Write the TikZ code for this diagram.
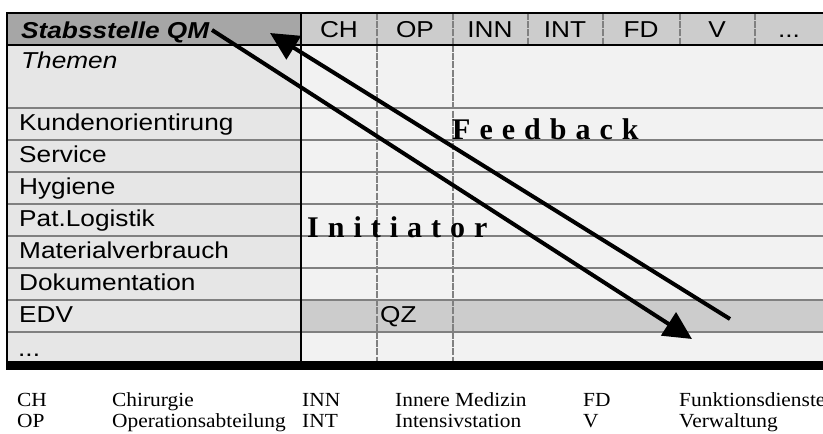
\documentclass[tikz,border=0pt]{standalone}
\usepackage{fontspec}
\setmainfont{Liberation Serif}
\newfontfamily\arialfont{Liberation Sans}
\usetikzlibrary{arrows.meta}

\definecolor{hdrdark}{HTML}{A6A6A6}
\definecolor{hdrlight}{HTML}{CCCCCC}
\definecolor{sidecell}{HTML}{E6E6E6}
\definecolor{bodycell}{HTML}{F2F2F2}
\definecolor{rulegray}{HTML}{808080}

% horizontally widened text
\newcommand{\wide}[2][1.14]{\scalebox{#1}[1]{#2}}
% gap between letters of a spaced bold label
\newcommand{\lgap}{\kern9pt}

\tikzset{
  cell/.style={anchor=base west, inner sep=0pt, font=\arialfont\fontsize{23}{26}\selectfont},
  colhead/.style={anchor=base, inner sep=0pt, font=\arialfont\fontsize{23}{26}\selectfont},
  legendtext/.style={anchor=base west, inner sep=0pt, font=\fontsize{20}{22}\selectfont},
  flowlabel/.style={anchor=base west, inner sep=0pt, font=\bfseries\fontsize{30}{32}\selectfont},
  rowrule/.style={draw=rulegray, line width=2pt},
  colrule/.style={draw=rulegray, line width=2.6pt, dash pattern=on 7pt off 1.2pt},
  frame/.style={draw=black, line width=2.5pt},
  flow/.style={draw=black, line width=4pt, -{Triangle[length=28pt,width=27pt]}},
}

\begin{document}
\begin{tikzpicture}[x=1pt, y=-1pt]
\useasboundingbox (0,0) rectangle (823,434);

% cell backgrounds
\fill[hdrdark]  (7,13)  rectangle (301,45);
\fill[hdrlight] (301,13) rectangle (823,45);
\fill[sidecell] (7,45)  rectangle (301,361);
\fill[bodycell] (301,45) rectangle (823,361);
\fill[hdrlight] (301,300) rectangle (823,332);

% row separators
\foreach \y in {108,140,172,204,236,268,300,332}
  \draw[rowrule] (7,\y) -- (823,\y);

% column separators
\foreach \x in {377,453,528,603,680,755}
  \draw[colrule] (\x,13) -- (\x,45);
\foreach \x in {377,453}
  \draw[colrule] (\x,45) -- (\x,361);

% frame
\draw[frame] (7,13) -- (823,13);
\draw[black, line width=2pt] (7,45) -- (823,45);
\draw[black, line width=2pt] (7,12) -- (7,370);
\draw[black, line width=2pt] (301,13) -- (301,361);
\fill[black] (6,361) rectangle (823,370);

% header
\node[cell] (qm) at (21,38) {\wide{\bfseries\itshape Stabsstelle QM}};
\node[colhead] (ch)  at (339,37) {\wide{CH}};
\node[colhead] (op)  at (415,37) {\wide{OP}};
\node[colhead] (inn) at (490,37) {\wide{INN}};
\node[colhead] (int) at (565,37) {\wide{INT}};
\node[colhead] (fd)  at (641,37) {\wide{FD}};
\node[colhead] (v)   at (717,37) {\wide{V}};
\node[colhead] (more) at (789,37) {\wide{...}};

% topics
\node[cell] (themen) at (21,68)  {\wide{\itshape Themen}};
\node[cell] (t1) at (19,130) {\wide{Kundenorientirung}};
\node[cell] (t2) at (19,162) {\wide{Service}};
\node[cell] (t3) at (19,194) {\wide{Hygiene}};
\node[cell] (t4) at (19,226) {\wide{Pat.Logistik}};
\node[cell] (t5) at (19,258) {\wide{Materialverbrauch}};
\node[cell] (t6) at (19,290) {\wide{Dokumentation}};
\node[cell] (t7) at (19,322) {\wide{EDV}};
\node[cell] (t8) at (18,356) {\wide{...}};
\node[cell] (qz) at (380,322) {\wide{QZ}};

% flow labels
\node[flowlabel] (fb)  at (452,139) {F\lgap e\lgap e\lgap d\lgap b\lgap a\lgap c\lgap k};
\node[flowlabel] (ini) at (307,237) {I\lgap n\lgap i\lgap t\lgap i\lgap a\lgap t\lgap o\lgap r};

% flow arrows
\coordinate (iniA) at (212,30);
\coordinate (iniB) at (692,339);
\coordinate (fbA)  at (730,319);
\coordinate (fbB)  at (270,33);
\draw[flow] (iniA) -- (iniB);
\draw[flow] (fbA) -- (fbB);

% legend
\node[legendtext] (l1a) at (17,406)  {\wide[1.07]{CH}};
\node[legendtext] (l1b) at (112,406) {\wide[1.07]{Chirurgie}};
\node[legendtext] (l1c) at (302,406) {\wide[1.07]{INN}};
\node[legendtext] (l1d) at (395,406) {\wide[1.07]{Innere Medizin}};
\node[legendtext] (l1e) at (583,406) {\wide[1.07]{FD}};
\node[legendtext] (l1f) at (679,406) {\wide[1.07]{Funktionsdienste}};
\node[legendtext] (l2a) at (17,427)  {\wide[1.07]{OP}};
\node[legendtext] (l2b) at (112,427) {\wide[1.07]{Operationsabteilung}};
\node[legendtext] (l2c) at (302,427) {\wide[1.07]{INT}};
\node[legendtext] (l2d) at (395,427) {\wide[1.07]{Intensivstation}};
\node[legendtext] (l2e) at (583,427) {\wide[1.07]{V}};
\node[legendtext] (l2f) at (679,427) {\wide[1.07]{Verwaltung}};
\end{tikzpicture}
\end{document}
